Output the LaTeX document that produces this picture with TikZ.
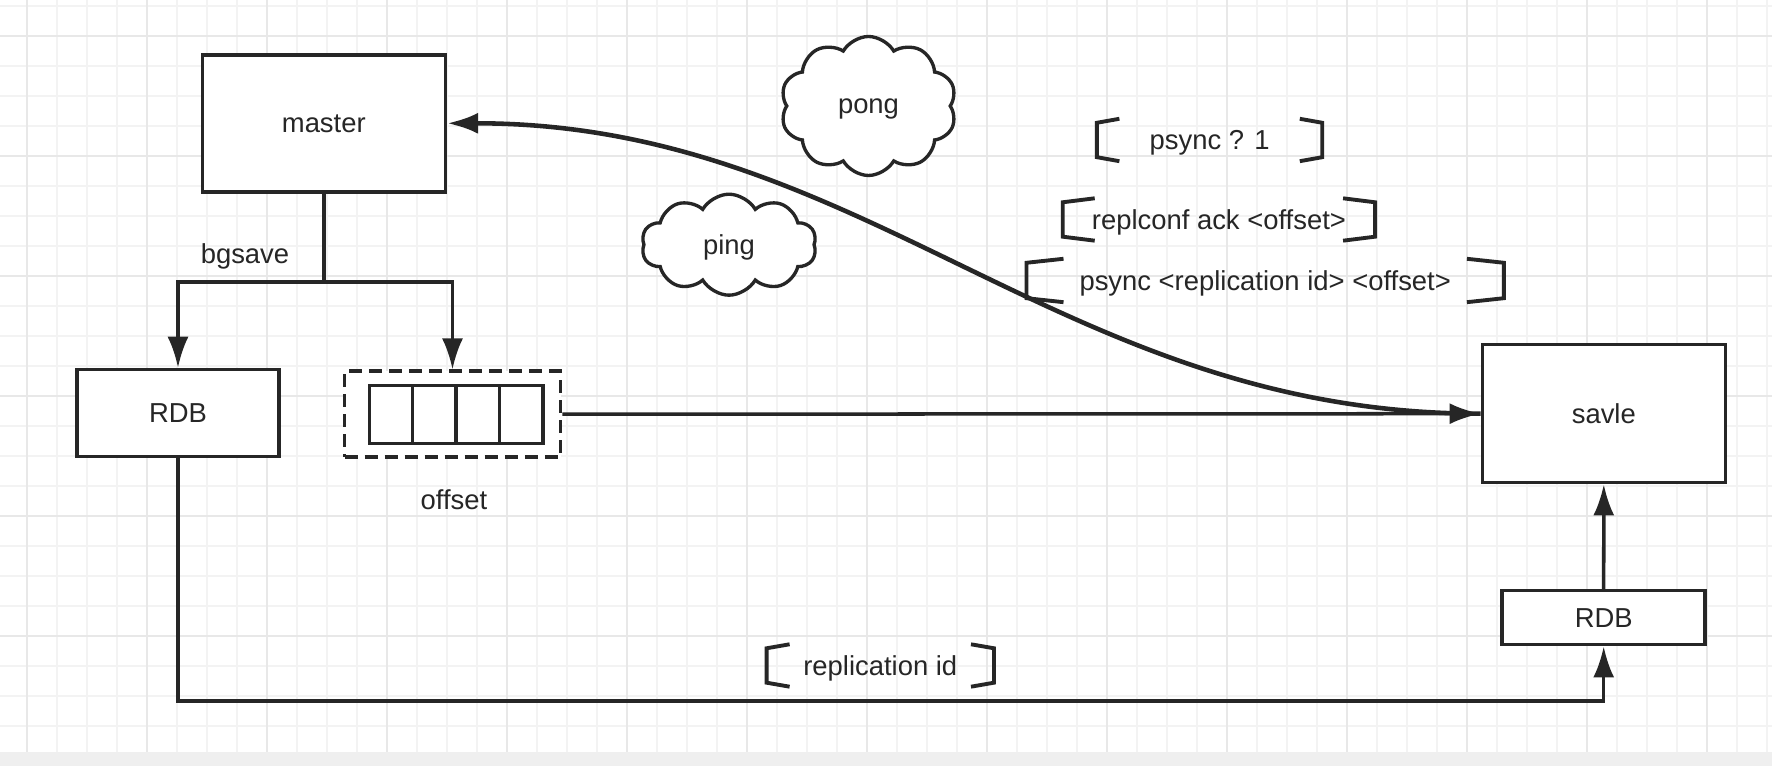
\documentclass[tikz,border=0pt]{standalone}
\usepackage{fontspec}
\setmainfont{Liberation Sans}
\usetikzlibrary{shapes.symbols,arrows.meta,positioning}
\definecolor{ink}{RGB}{38,38,38}
\definecolor{gridlight}{RGB}{243,243,243}
\definecolor{gridbold}{RGB}{232,232,232}
\definecolor{bandgray}{RGB}{239,239,239}

% square brackets round a label node: #1 node, #2 arm length
\newcommand{\bracketpair}[2]{%
  \draw[bracket] ([shift={(#2,0.04)}]#1.north west) -- (#1.north west) -- (#1.south west) -- ([shift={(#2,-0.04)}]#1.south west);
  \draw[bracket] ([shift={(-#2,0.04)}]#1.north east) -- (#1.north east) -- (#1.south east) -- ([shift={(-#2,-0.04)}]#1.south east);}

\begin{document}
\begin{tikzpicture}[
    font=\fontsize{7.8}{9.4}\selectfont,
    box/.style={draw=ink, line width=1pt, fill=white, text=ink, inner sep=0pt, text depth=-0.02cm},
    cell/.style={box, minimum width=0.434cm, minimum height=0.576cm},
    puff/.style={cloud, cloud puffs=10, cloud puff arc=120, cloud ignores aspect, draw=ink, line width=0.95pt, fill=white, text=ink},
    tag/.style={text=ink, inner sep=0pt},
    cmd/.style={tag, minimum height=0.33cm, text depth=0pt},
    bracket/.style={draw=ink, line width=1.1pt},
    line/.style={draw=ink, line width=1pt},
    arrow/.style={line, -{Latex[length=3.1mm,width=2.1mm]}},
    gridminor/.style={draw=gridlight, line width=0.6pt},
    gridmajor/.style={draw=gridbold, line width=0.6pt}
]
    \useasboundingbox (0,0) rectangle (17.72,-7.66);

    % Background grid
    \fill[white] (0,0) rectangle (17.72,-7.52);
    \fill[bandgray] (0,-7.52) rectangle (17.72,-7.66);
    \foreach \k in {0,...,58} \draw[gridminor] ({0.267+0.3*\k},0) -- ({0.267+0.3*\k},-7.52);
    \foreach \k in {0,...,24} \draw[gridminor] (0,{-0.06-0.3*\k}) -- (17.72,{-0.06-0.3*\k});
    \foreach \k in {0,...,14} \draw[gridmajor] ({0.267+1.2*\k},0) -- ({0.267+1.2*\k},-7.52);
    \foreach \k in {0,...,5} \draw[gridmajor] (0,{-0.36-1.2*\k}) -- (17.72,{-0.36-1.2*\k});

    % Master side
    \node[box, minimum width=2.43cm, minimum height=1.37cm] (master) at (3.238,-1.233) {master};
    \node[tag] (bgsave) at (2.45,-2.567) {bgsave};
    \node[box, minimum width=2.02cm, minimum height=0.87cm] (rdbm) at (1.78,-4.13) {RDB};

    % Offset buffer
    \node[box, dash pattern=on 3.7pt off 2pt, minimum width=2.16cm, minimum height=0.86cm] (offbox) at (4.525,-4.142) {};
    \foreach \i in {0,...,3}
        \node[cell] (cell\i) at ({3.91+0.4335*\i},-4.145) {};
    \node[tag] (offlabel) at (4.54,-4.993) {offset};

    % Slave side
    \node[box, minimum width=2.43cm, minimum height=1.38cm] (savle) at (16.038,-4.137) {savle};
    \node[box, minimum width=2.03cm, minimum height=0.54cm] (rdbs) at (16.037,-6.177) {RDB};

    % Heartbeat
    \node[puff, minimum width=1.76cm, minimum height=1.39cm, text depth=-0.1cm] (pong) at (8.685,-1.06) {pong};
    \node[puff, minimum width=1.75cm, minimum height=1.01cm, text depth=-0.06cm] (ping) at (7.29,-2.447) {ping};

    % Commands
    \node[cmd, minimum width=2.24cm] (ask) at (12.096,-1.40) {psync ? 1};
    \node[cmd, minimum width=3.11cm] (ack) at (12.189,-2.195) {replconf ack <offset>};
    \node[cmd, minimum width=4.76cm, minimum height=0.34cm] (resume) at (12.652,-2.805) {psync <replication id> <offset>};
    \node[cmd, minimum width=2.26cm] (replid) at (8.803,-6.655) {replication id};
    \bracketpair{ask}{0.225}
    \bracketpair{ack}{0.32}
    \bracketpair{resume}{0.37}
    \bracketpair{replid}{0.23}

    % Arrows
    \coordinate[below=0.885cm of master.south] (fork);
    \draw[line] (master.south) -- (fork);
    \draw[arrow] (fork) -| (rdbm.north);
    \draw[arrow] (fork) -| (offbox.north);
    \draw[arrow] (offbox.east) -- (savle.west);
    \draw[arrow, line width=1.3pt] (savle.west) to[out=180, in=0] (master.east);
    \draw[arrow] (rdbs.north) -- (savle.south);
    \coordinate (low) at (rdbs.south |- 0,-7.01);
    \draw[arrow] (rdbm.south) |- (low) -- (rdbs.south);
\end{tikzpicture}
\end{document}
